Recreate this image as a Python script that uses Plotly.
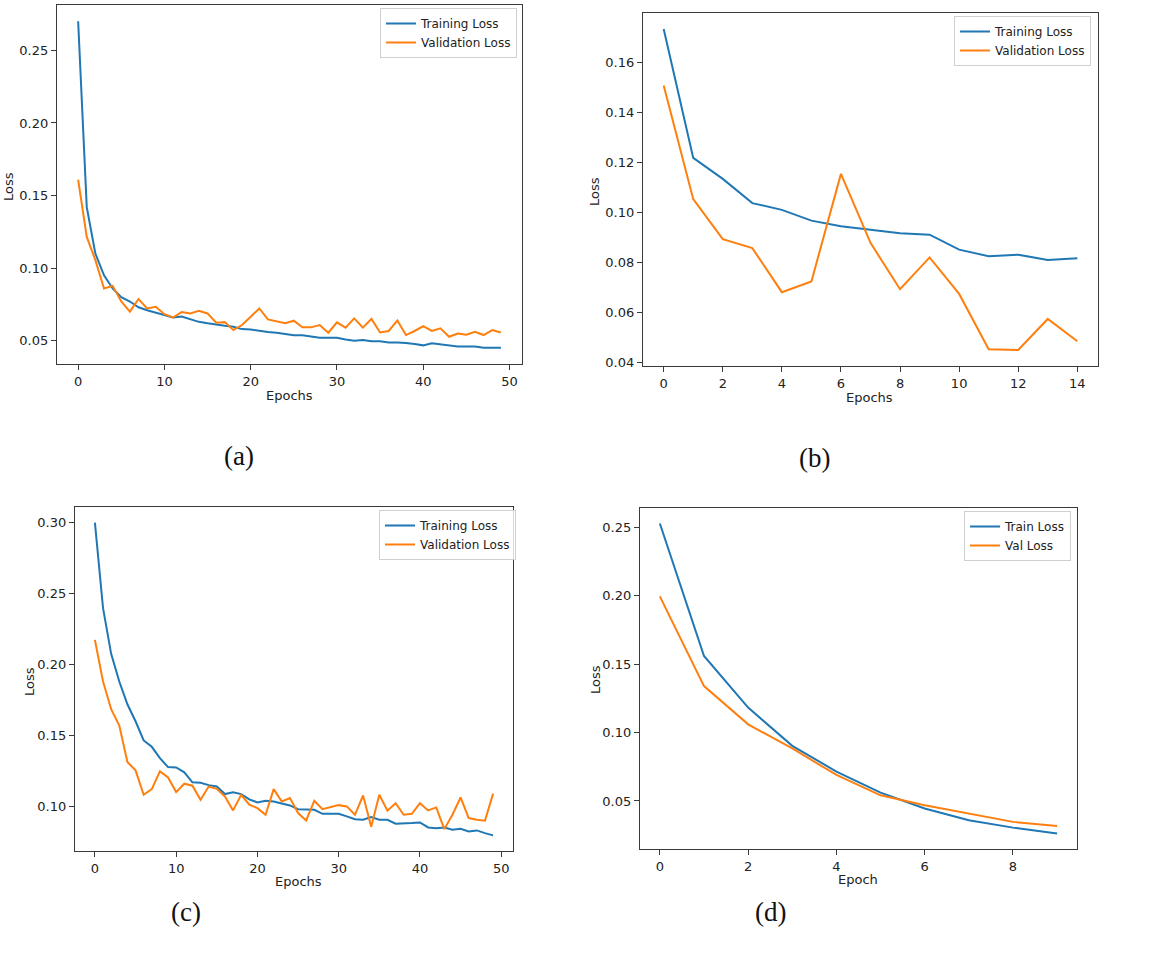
import plotly.graph_objects as go

# (a) 50 epochs
train_a = [0.270, 0.142, 0.110, 0.095, 0.086, 0.080, 0.077, 0.073, 0.071, 0.0695,
           0.0677, 0.066, 0.0667, 0.0647, 0.063, 0.062, 0.061, 0.0603, 0.0596, 0.058,
           0.0578, 0.0567, 0.056, 0.0555, 0.0546, 0.0537, 0.0537, 0.053, 0.052, 0.052,
           0.052, 0.0509, 0.050, 0.0505, 0.0496, 0.0496, 0.0487, 0.0487, 0.0485, 0.0477,
           0.0468, 0.0482, 0.0473, 0.0464, 0.046, 0.046, 0.046, 0.0452, 0.0452, 0.0452]
val_a = [0.161, 0.1215, 0.1055, 0.086, 0.0878, 0.077, 0.070, 0.0787, 0.0722, 0.0734,
         0.0683, 0.066, 0.0697, 0.0688, 0.0706, 0.0688, 0.0624, 0.0628, 0.0573, 0.0608,
         0.0665, 0.0722, 0.0647, 0.0635, 0.062, 0.0638, 0.0592, 0.0592, 0.0608, 0.0555,
         0.0626, 0.059, 0.0654, 0.059, 0.065, 0.0557, 0.0567, 0.064, 0.0539, 0.0567,
         0.0601, 0.0567, 0.0585, 0.0527, 0.055, 0.0541, 0.0562, 0.0539, 0.0573, 0.0557]

# (b) 15 epochs
train_b = [0.1733, 0.1218, 0.1134, 0.1037, 0.101, 0.0967, 0.0945, 0.093, 0.0917, 0.0911,
           0.0851, 0.0825, 0.0831, 0.081, 0.0817]
val_b = [0.1507, 0.1053, 0.0893, 0.0857, 0.0681, 0.0724, 0.1154, 0.0878, 0.0693, 0.082,
         0.0674, 0.0453, 0.045, 0.0574, 0.0485]

# (c) 50 epochs
train_c = [0.300, 0.2397, 0.2075, 0.188, 0.172, 0.160, 0.1465, 0.142, 0.134, 0.1277,
           0.1275, 0.124, 0.117, 0.1167, 0.115, 0.114, 0.1087, 0.110, 0.1087, 0.105,
           0.1028, 0.104, 0.1035, 0.1023, 0.1007, 0.098, 0.0976, 0.0976, 0.0948, 0.0948,
           0.0948, 0.093, 0.091, 0.0906, 0.0925, 0.0906, 0.0906, 0.0878, 0.0883, 0.0883,
           0.0887, 0.0852, 0.0847, 0.0852, 0.0836, 0.0843, 0.0824, 0.0831, 0.0812, 0.0796]
val_c = [0.2174, 0.188, 0.1685, 0.157, 0.1313, 0.1254, 0.1082, 0.1122, 0.1247, 0.1204,
         0.1101, 0.116, 0.1146, 0.1047, 0.114, 0.1124, 0.107, 0.0972, 0.1082, 0.1012,
         0.0988, 0.0941, 0.1122, 0.1035, 0.1059, 0.0953, 0.0901, 0.104, 0.098, 0.0995,
         0.1009, 0.100, 0.0941, 0.1077, 0.0857, 0.1082, 0.097, 0.1023, 0.0941, 0.0948,
         0.1023, 0.0972, 0.0993, 0.084, 0.0941, 0.1063, 0.0918, 0.0906, 0.0899, 0.109]

# (d) 10 epochs
train_d = [0.2529, 0.156, 0.1183, 0.0903, 0.0715, 0.0561, 0.0445, 0.0359, 0.0305, 0.0262]
val_d = [0.1996, 0.134, 0.106, 0.0884, 0.069, 0.0541, 0.0468, 0.0409, 0.0347, 0.0316]

captions = ["(a)", "(b)", "(c)", "(d)"]
names = [("Training Loss", "Validation Loss")] * 3 + [("Train Loss", "Val Loss")]
xtitles = ["Epochs", "Epochs", "Epochs", "Epoch"]

W, H = 1169, 959
BLUE, ORANGE = "#1f77b4", "#ff7f0e"
FONT = "DejaVu Sans"
TXT = "#222"


def px(x):
    return min(1, max(0, x / W))


def py(y):
    return min(1, max(0, 1 - y / H))


# panel frames in screen pixels: left, right, top, bottom
frames = [(57, 522, 5, 364), (643, 1098, 13, 366), (75, 513, 507, 851), (640, 1077, 508, 849)]
legend_pos = [(517, 8), (1091, 16), (516, 510), (1071, 511)]
caption_pos = [(239, 456), (814, 458), (186, 912), (770, 912)]
xtitle_pos = [(289, 396), (869, 397), (298, 881), (858, 879)]
ytitle_pos = [(9, 187), (595, 192), (29, 682), (595, 680)]
xdtick = [10, 2, 10, 2]
ydtick = [0.05, 0.02, 0.05, 0.05]

panels = [(train_a, val_a), (train_b, val_b), (train_c, val_c), (train_d, val_d)]

fig = go.Figure()
layout = {}
annotations = []
for i, (tr, va) in enumerate(panels):
    n = i + 1
    sfx = "" if n == 1 else str(n)
    ep = list(range(len(tr)))
    leg = "legend" + sfx
    fig.add_trace(go.Scatter(x=ep, y=tr, mode="lines", name=names[i][0],
                             line=dict(color=BLUE, width=2),
                             xaxis="x" + sfx, yaxis="y" + sfx, legend=leg))
    fig.add_trace(go.Scatter(x=ep, y=va, mode="lines", name=names[i][1],
                             line=dict(color=ORANGE, width=2),
                             xaxis="x" + sfx, yaxis="y" + sfx, legend=leg))

    # matplotlib style 5% margins
    xmin, xmax = 0, len(tr) - 1
    allv = tr + va
    ymin, ymax = min(allv), max(allv)
    xm = 0.05 * (xmax - xmin)
    ym = 0.05 * (ymax - ymin)

    l, r, t, b = frames[i]
    axis_common = dict(showline=True, mirror=True, linecolor="#3a3a3a", linewidth=1.3,
                       ticks="outside", ticklen=5, tickcolor="#3a3a3a",
                       showgrid=False, zeroline=False, automargin=False,
                       tickfont=dict(family=FONT, size=13, color=TXT))
    layout["xaxis" + sfx] = dict(axis_common, domain=[px(l), px(r)],
                                 range=[xmin - xm, xmax + xm], dtick=xdtick[i], tick0=0,
                                 anchor="y" + sfx)
    layout["yaxis" + sfx] = dict(axis_common, domain=[py(b), py(t)],
                                 range=[ymin - ym, ymax + ym], dtick=ydtick[i], tick0=0,
                                 tickformat=".2f", anchor="x" + sfx)
    lx, ly = legend_pos[i]
    layout[leg] = dict(x=px(lx), y=py(ly), xanchor="right", yanchor="top",
                       bgcolor="rgba(255,255,255,0.8)", bordercolor="#d0d0d0", borderwidth=1,
                       font=dict(family=FONT, size=12, color=TXT),
                       tracegroupgap=0, itemwidth=30)

    # axis titles
    tx, ty = xtitle_pos[i]
    annotations.append(dict(text=xtitles[i], x=px(tx), y=py(ty), xref="paper", yref="paper",
                            showarrow=False, xanchor="center", yanchor="middle",
                            font=dict(family=FONT, size=13, color=TXT)))
    tx, ty = ytitle_pos[i]
    annotations.append(dict(text="Loss", x=px(tx), y=py(ty), xref="paper", yref="paper",
                            showarrow=False, xanchor="center", yanchor="middle", textangle=-90,
                            font=dict(family=FONT, size=13, color=TXT)))

for cap, (cx, cy) in zip(captions, caption_pos):
    annotations.append(dict(text=cap, x=px(cx), y=py(cy), xref="paper", yref="paper",
                            showarrow=False, xanchor="center", yanchor="middle",
                            font=dict(family="Liberation Serif", size=27, color="#111")))

fig.update_layout(width=W, height=H, margin=dict(l=0, r=0, t=0, b=0),
                  paper_bgcolor="white", plot_bgcolor="white", showlegend=True,
                  annotations=annotations, **layout)

# drop the default 8px page margin so the figure fills the window exactly
fig.write_html("out.html", config={"displayModeBar": False},
               post_script="document.body.style.margin='0px';")
